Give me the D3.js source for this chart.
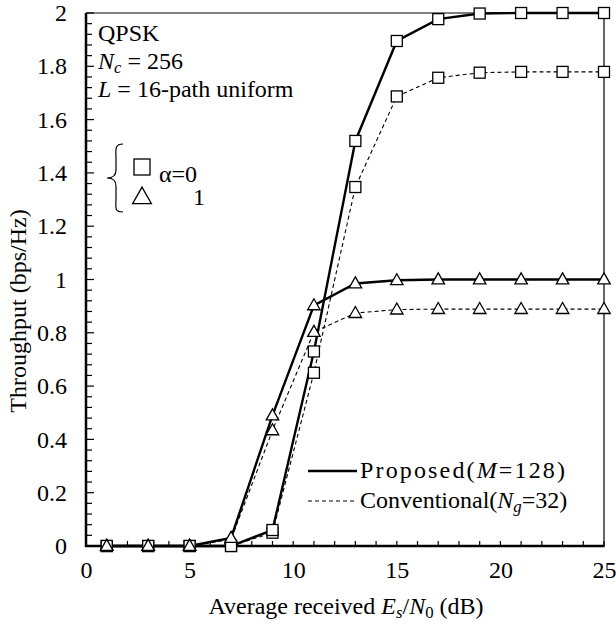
<!DOCTYPE html>
<html><head><meta charset="utf-8">
<script src="https://cdn.jsdelivr.net/npm/d3@7"></script>
<style>
html,body{margin:0;padding:0;background:#fff;}
</style></head>
<body><svg id="c" width="616" height="626"></svg>
<script>
const snr = [1,3,5,7,9,11,13,15,17,19,21,23,25];
const propA0 = [0,0,0,0,0.06,0.73,1.52,1.895,1.977,1.998,2.0,2.0,2.0];
const convA0 = [0,0,0,0,0.05,0.65,1.347,1.687,1.757,1.776,1.779,1.779,1.779];
const propA1 = [0,0,0,0.03,0.49,0.903,0.985,0.997,1.0,1.0,1.0,1.0,1.0];
const convA1 = [0,0,0,0.025,0.434,0.803,0.874,0.887,0.889,0.889,0.889,0.889,0.889];
const xTicks = [0,5,10,15,20,25];
const yTicks = [0,0.2,0.4,0.6,0.8,1,1.2,1.4,1.6,1.8,2];

const FONT = "'Liberation Serif', 'Times New Roman', Times, 'DejaVu Serif', serif";
const svg = d3.select("#c");
const L=86, R=604, T=13, B=546;
const x = d3.scaleLinear().domain([0,25]).range([L,R]);
const y = d3.scaleLinear().domain([0,2]).range([B,T]);
const fs = 24;
function txt(sel){ return sel.style("font-family",FONT).attr("fill","#000"); }

// frame
svg.append("line").attr("x1",L).attr("x2",R).attr("y1",T).attr("y2",T).attr("stroke","#000").attr("stroke-width",1.2);
svg.append("line").attr("x1",R).attr("x2",R).attr("y1",T).attr("y2",B).attr("stroke","#000").attr("stroke-width",1.2);

// minor ticks
const xMinor = d3.range(0,26,1);
svg.append("g").selectAll("line").data(xMinor).join("line")
  .attr("x1",d=>x(d)).attr("x2",d=>x(d)).attr("y1",B).attr("y2",B-5).attr("stroke","#000").attr("stroke-width",1.2);
const yMinor = d3.range(0,51).map(i=>i*0.04);
svg.append("g").selectAll("line").data(yMinor).join("line")
  .attr("x1",L).attr("x2",d=> (Math.abs(d*5-Math.round(d*5))<1e-6) ? L+8 : L+6)
  .attr("y1",d=>y(d)).attr("y2",d=>y(d)).attr("stroke","#000").attr("stroke-width",1.2);

// axes
const xAxis = d3.axisBottom(x).tickValues(xTicks).tickSize(0).tickPadding(15).tickFormat(d3.format("d"));
const gx = svg.append("g").attr("transform",`translate(0,${B})`).call(xAxis);
gx.select(".domain").remove();
txt(gx.selectAll("text")).attr("font-size",fs);
const yAxis = d3.axisLeft(y).tickValues(yTicks).tickSize(0).tickPadding(19).tickFormat(d=>d3.format("")(+d.toFixed(1)));
const gy = svg.append("g").attr("transform",`translate(${L},0)`).call(yAxis);
gy.select(".domain").remove();
txt(gy.selectAll("text")).attr("font-size",fs);
gx.attr("font-family",null); gy.attr("font-family",null);

svg.append("line").attr("x1",L).attr("x2",L).attr("y1",T).attr("y2",B+1).attr("stroke","#000").attr("stroke-width",2.5);
svg.append("line").attr("x1",L-1).attr("x2",R+0.6).attr("y1",B).attr("y2",B).attr("stroke","#000").attr("stroke-width",2.5);

// series lines
const series = [
  {v:convA0, dash:true, m:"sq"},
  {v:convA1, dash:true, m:"tri"},
  {v:propA0, dash:false, m:"sq"},
  {v:propA1, dash:false, m:"tri"}
];
const line = d3.line().x((d,i)=>x(snr[i])).y(d=>y(d));
series.forEach(s=>{
  svg.append("path").attr("d",line(s.v)).attr("fill","none").attr("stroke","#000")
    .attr("stroke-width",s.dash?1.1:2.4).attr("stroke-dasharray",s.dash?"4,3":null);
});
const sqS=11, triW=12.5, triH=11;
function drawMarker(g,type,cx,cy,k){
  k=k||1;
  if(type==="sq"){
    const s=sqS*(k===1?1:k*10/11);
    g.append("rect").attr("x",cx-s/2).attr("y",cy-s/2).attr("width",s).attr("height",s)
     .attr("fill","#fff").attr("stroke","#000").attr("stroke-width",1.3);
  } else {
    const w=triW*k,h=triH*k;
    g.append("path").attr("d",`M${cx},${cy-h*0.6}L${cx+w/2},${cy+h*0.4}L${cx-w/2},${cy+h*0.4}Z`)
     .attr("fill","#fff").attr("stroke","#000").attr("stroke-width",1.3);
  }
}
const mg = svg.append("g");
series.forEach(s=>{
  s.v.forEach((d,i)=>drawMarker(mg,s.m,x(snr[i]),y(d)));
});

// annotation
const ann = svg.append("g").attr("font-size",fs);
txt(ann.append("text").attr("x",98).attr("y",41)).text("QPSK");
const t2 = txt(ann.append("text").attr("x",98).attr("y",69));
t2.append("tspan").attr("font-style","italic").text("N");
t2.append("tspan").attr("font-style","italic").attr("font-size",fs*0.7).attr("dy",4).text("c");
t2.append("tspan").attr("dy",-4).text(" = 256");
const t3 = txt(ann.append("text").attr("x",98).attr("y",97));
t3.append("tspan").attr("font-style","italic").text("L");
t3.append("tspan").text(" = 16-path uniform");

// brace legend
svg.append("path").attr("d","M123,144 C114,144 116,150 116,160 L116,170 C116,176 113,178 107,178 C113,178 116,180 116,186 L116,198 C116,208 114,212 123,212")
  .attr("fill","none").attr("stroke","#000").attr("stroke-width",1.2);
drawMarker(svg,"sq",142,167,1.6);
drawMarker(svg,"tri",142,197,1.5);
txt(svg.append("text").attr("x",159).attr("y",182).attr("font-size",fs)).text("α=0");
txt(svg.append("text").attr("x",193).attr("y",205).attr("font-size",fs)).text("1");

// bottom legend
svg.append("line").attr("x1",308).attr("x2",357).attr("y1",471).attr("y2",471).attr("stroke","#000").attr("stroke-width",2.4);
svg.append("line").attr("x1",308).attr("x2",357).attr("y1",501).attr("y2",501).attr("stroke","#000").attr("stroke-width",1.1).attr("stroke-dasharray","4,3");
const l1 = txt(svg.append("text").attr("x",360).attr("y",478).attr("font-size",fs)).attr("textLength",205).attr("lengthAdjust","spacing");
l1.append("tspan").text("Proposed(");
l1.append("tspan").attr("font-style","italic").text("M");
l1.append("tspan").text("=128)");
const l2 = txt(svg.append("text").attr("x",360).attr("y",508).attr("font-size",fs));
l2.append("tspan").text("Conventional(");
l2.append("tspan").attr("font-style","italic").text("N");
l2.append("tspan").attr("font-style","italic").attr("font-size",fs*0.7).attr("dy",4).text("g");
l2.append("tspan").attr("dy",-4).text("=32)");

// axis titles
const xt = txt(svg.append("text").attr("x",346).attr("y",614).attr("text-anchor","middle").attr("font-size",fs));
xt.append("tspan").text("Average received ");
xt.append("tspan").attr("font-style","italic").text("E");
xt.append("tspan").attr("font-style","italic").attr("font-size",fs*0.7).attr("dy",4).text("s");
xt.append("tspan").attr("dy",-4).text("/");
xt.append("tspan").attr("font-style","italic").text("N");
xt.append("tspan").attr("font-size",fs*0.7).attr("dy",4).text("0");
xt.append("tspan").attr("dy",-4).text(" (dB)");
txt(svg.append("text").attr("transform","translate(26,311) rotate(-90)").attr("text-anchor","middle").attr("font-size",fs)).text("Throughput (bps/Hz)");
</script></body></html>
